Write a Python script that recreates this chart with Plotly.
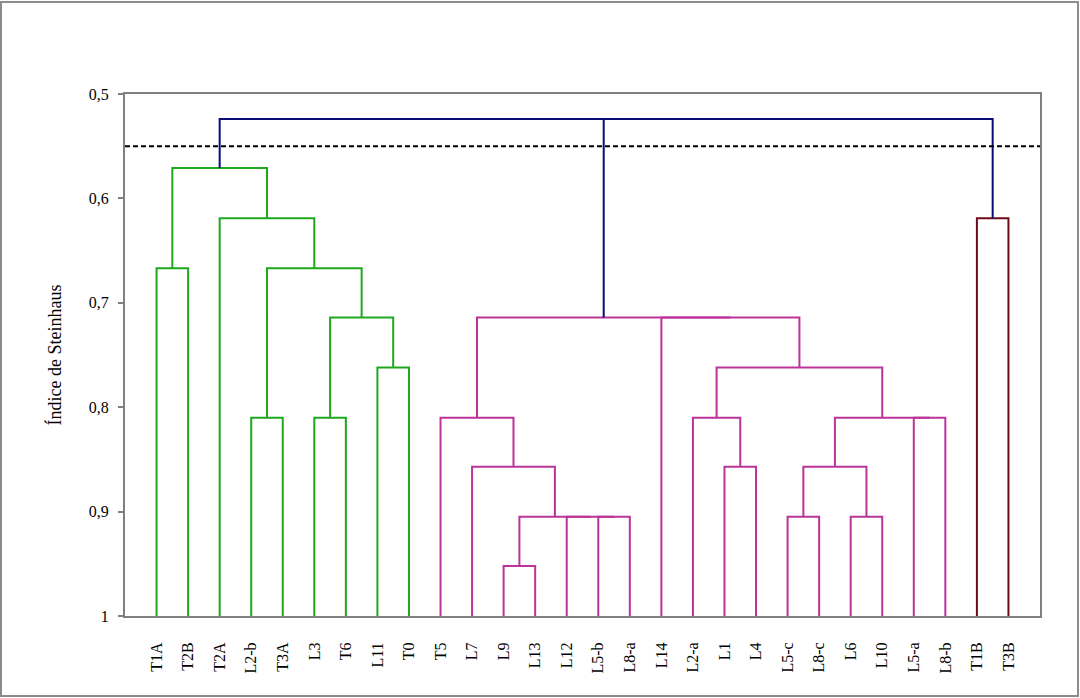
import plotly.graph_objects as go

# ---- data ----
leaves = ["T1A", "T2B", "T2A", "L2-b", "T3A", "L3", "T6", "L11", "T0",
          "T5", "L7", "L9", "L13", "L12", "L5-b", "L8-a", "L14", "L2-a",
          "L1", "L4", "L5-c", "L8-c", "L6", "L10", "L5-a", "L8-b", "T1B", "T3B"]

merge_names  = ["g1", "g2", "g3", "g4", "g5", "g6", "g7", "g8",
                "m1", "m2", "m3", "m4", "m5", "m6", "m7", "m8", "m9", "m10",
                "m11", "m12", "m13", "m14", "m15", "m16",
                "b1", "r1", "r2"]
merge_left   = ["T1A", "L2-b", "L3", "L11", "g3", "g2", "T2A", "g1",
                "L9", "L5-b", "L12", "m1", "L7", "T5", "L1", "L2-a", "L5-c", "L6",
                "m9", "L5-a", "m11", "m8", "L14", "m6",
                "T1B", "m16", "g8"]
merge_right  = ["T2B", "T3A", "T6", "T0", "g4", "g5", "g6", "g7",
                "L13", "L8-a", "m2", "m3", "m4", "m5", "L4", "m7", "L8-c", "L10",
                "m10", "L8-b", "m12", "m13", "m14", "m15",
                "T3B", "b1", "r1"]
merge_height = [0.667, 0.810, 0.810, 0.762, 0.714, 0.667, 0.619, 0.571,
                0.952, 0.905, 0.905, 0.905, 0.857, 0.810, 0.857, 0.810, 0.905, 0.905,
                0.857, 0.810, 0.810, 0.762, 0.714, 0.714,
                0.619, 0.524, 0.524]
merge_group  = ["A"] * 8 + ["B"] * 16 + ["C", "root", "root"]

cut_level = 0.55
leaf_level = 1.0
y_ticks = [0.5, 0.6, 0.7, 0.8, 0.9, 1.0]

# ---- styles ----
group_colors = {"A": "#1EA81E", "B": "#BC3399", "C": "#6E0A1C", "root": "#0A0A78"}
FONT = "Liberation Serif, Times New Roman, serif"

# ---- build dendrogram segments ----
pos = {name: (i + 1, leaf_level) for i, name in enumerate(leaves)}
segs = {g: ([], []) for g in group_colors}
for name, l, r, h, g in zip(merge_names, merge_left, merge_right, merge_height, merge_group):
    xl, hl = pos[l]
    xr, hr = pos[r]
    xs, ys = segs[g]
    xs += [xl, xl, xr, xr, None]
    ys += [hl, h, h, hr, None]
    pos[name] = ((xl + xr) / 2, h)

fig = go.Figure()
for g in ["A", "B", "C", "root"]:
    xs, ys = segs[g]
    fig.add_trace(go.Scatter(x=xs, y=ys, mode="lines",
                             line=dict(color=group_colors[g], width=2),
                             hoverinfo="skip", showlegend=False))

fig.add_shape(type="line", xref="paper", yref="y", x0=0, x1=1, y0=cut_level, y1=cut_level,
              line=dict(color="black", width=2, dash="5px,3px"))

# outer chart border
fig.add_shape(type="rect", xref="paper", yref="paper",
              x0=-124 / 915, x1=1 + 38 / 915, y0=-80 / 522, y1=1 + 92 / 522,
              line=dict(color="#8C8C8C", width=2), fillcolor="rgba(0,0,0,0)", layer="below")

fig.update_layout(
    width=1080, height=698,
    margin=dict(l=125, r=40, t=94, b=82),
    paper_bgcolor="white", plot_bgcolor="white",
    separators=",.",
    font=dict(family=FONT, size=16, color="black"),
    xaxis=dict(range=[0, len(leaves) + 1], tickvals=list(range(1, len(leaves) + 1)),
               ticktext=leaves, tickangle=-90, showgrid=False, zeroline=False,
               showline=True, mirror=True, linecolor="#808080", linewidth=2,
               ticks="", ticklabelstandoff=18, tickfont=dict(family=FONT, size=16)),
    yaxis=dict(range=[1, 0.5], tickvals=y_ticks, showgrid=False, zeroline=False,
               showline=True, mirror=True, linecolor="#808080", linewidth=2,
               ticks="outside", ticklen=5, tickcolor="#808080", tickwidth=1.5,
               ticklabelstandoff=6, tickfont=dict(family=FONT, size=16),
               title=dict(text="Índice de Steinhaus", font=dict(family=FONT, size=18),
                          standoff=22)),
)

fig.write_html("out.html", config={"displayModeBar": False},
               post_script="document.body.style.margin='0';")
